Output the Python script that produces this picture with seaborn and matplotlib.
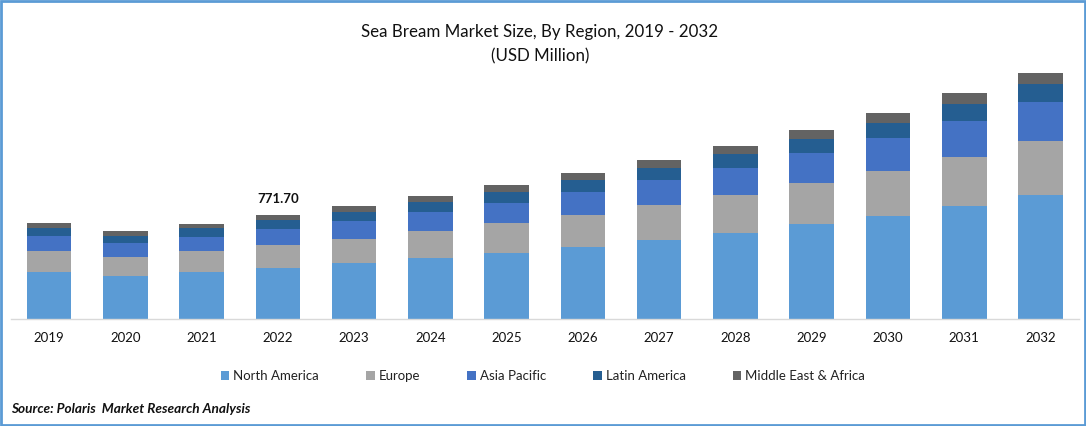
import matplotlib
matplotlib.use("Agg")
import matplotlib.pyplot as plt
import numpy as np
import pandas as pd
import seaborn as sns
from matplotlib.patches import Rectangle

years = ["2019","2020","2021","2022","2023","2024","2025","2026","2027","2028","2029","2030","2031","2032"]
north_america = [349,319,349,378,416,453,490,534,586,638,705,764,838,920]
europe = [156,141,156,171,178,200,223,237,260,282,304,334,364,401]
asia_pacific = [111,104,104,119,134,141,148,171,186,200,223,245,267,289]
latin_america = [59,52,67,67,67,74,82,89,89,104,104,111,126,134]
middle_east_africa = [37,37,30,37,45,45,52,52,59,59,67,74,82,82]
series_names = ["North America","Europe","Asia Pacific","Latin America","Middle East & Africa"]
series_colors = ["#5B9BD5","#A5A5A5","#4472C4","#255E91","#636363"]
label_year = "2022"
label_text = "771.70"

sns.set_theme(style="white")
plt.rcParams["font.family"] = ["Lato","DejaVu Sans"]
W, H = 1086, 426
fig = plt.figure(figsize=(W/100, H/100), dpi=100)
ax = fig.add_axes([11/W, 1-319/H, (1078.6-11)/W, 259/H])

df = pd.DataFrame(dict(zip(series_names,[north_america,europe,asia_pacific,latin_america,middle_east_africa])))
df["year"] = years
bottom = np.zeros(len(years))
for name, col in zip(series_names, series_colors):
    sns.barplot(data=df, x="year", y=name, color=col, width=0.585, bottom=bottom,
                ax=ax, label=name, saturation=1, linewidth=0, legend=False)
    bottom = bottom + df[name].to_numpy()

h, l = ax.get_legend_handles_labels()
if ax.get_legend() is not None:
    ax.get_legend().remove()

ax.set_xlim(-0.5, 13.5)
ax.set_ylim(0, 259*7.42)
ax.set_xlabel(""); ax.set_ylabel("")
ax.set_yticks([])
ax.tick_params(axis="x", length=0, pad=9, labelsize=9.5, labelcolor="#111111")
for s in ["top","left","right"]:
    ax.spines[s].set_visible(False)
ax.spines["bottom"].set_color("#D9D9D9")
ax.spines["bottom"].set_linewidth(1)

i = years.index(label_year)
ax.text(i, bottom[i]+72, label_text, ha="center", va="bottom", fontsize=9.5, fontweight="bold", color="#111111")

fig.legend(h, l, ncol=5, loc="center", bbox_to_anchor=(543/W, 1-376/H), frameon=False,
           fontsize=9.5, labelcolor="#222222", handlelength=0.62, handleheight=0.62,
           handletextpad=0.3, columnspacing=3.6)

fig.text(540/W, 1-32/H, "Sea Bream Market Size, By Region, 2019 - 2032", ha="center", va="center", fontsize=12.15, color="#111111")
fig.text(540/W, 1-56/H, "(USD Million)", ha="center", va="center", fontsize=12.15, color="#111111")
fig.text(11/W, 1-409/H, "Source: Polaris  Market Research Analysis", ha="left", va="center",
         fontsize=9.8, fontweight="bold", fontstyle="italic", color="#111111")

fig.add_artist(Rectangle((1/W, 1/H), (W-2)/W, (H-2)/H, transform=fig.transFigure, fill=False,
                         edgecolor="#5B9BD5", linewidth=2))
fig.savefig("out.png", dpi=100)
